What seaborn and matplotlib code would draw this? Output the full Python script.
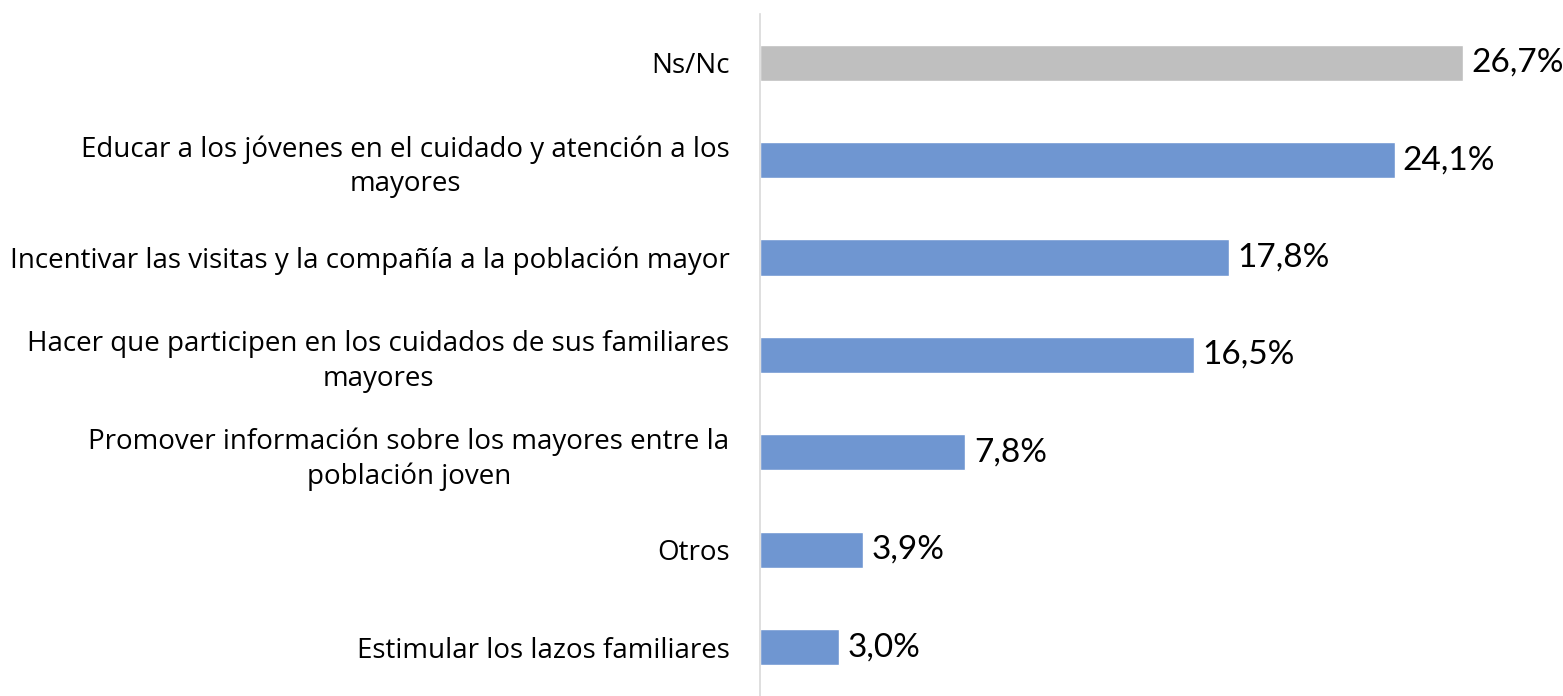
import matplotlib
matplotlib.use('Agg')
import matplotlib.pyplot as plt
import seaborn as sns
import pandas as pd

categories = [
    'Ns/Nc',
    'Educar a los jóvenes en el cuidado y atención a los\nmayores',
    'Incentivar las visitas y la compañía a la población mayor',
    'Hacer que participen en los cuidados de sus familiares\nmayores',
    'Promover información sobre los mayores entre la\npoblación joven',
    'Otros',
    'Estimular los lazos familiares',
]
values = [26.7, 24.1, 17.8, 16.5, 7.8, 3.9, 3.0]
colors = ['#BFBFBF'] + ['#6F96D1'] * 6

sns.set_theme(style='white')
plt.rcParams['font.family'] = ['Open Sans', 'DejaVu Sans']

data = pd.DataFrame(dict(cat=categories, val=values))

fig = plt.figure(figsize=(15.63, 6.96), dpi=100)
ax = fig.add_axes([0.4863, 0.0, 0.5137, 0.98])

sns.barplot(data=data, x='val', y='cat', hue='cat', palette=colors,
            legend=False, width=0.37, ax=ax, saturation=1)

ax.set_xlim(0, 30.5)
ax.set_ylim(6.5, -0.5)
ax.set_xlabel('')
ax.set_ylabel('')
ax.set_xticks([])
for s in ['top', 'right', 'bottom']:
    ax.spines[s].set_visible(False)
ax.spines['left'].set_color('#D9D9D9')
ax.spines['left'].set_linewidth(1.2)

ax.tick_params(axis='y', length=0, pad=22, labelsize=20)
for lab in ax.get_yticklabels():
    lab.set_multialignment('center')
    lab.set_linespacing(1.3)
    lab.set_color('black')

for cont in ax.containers:
    ax.bar_label(cont, labels=[('%.1f%%' % v).replace('.', ',') for v in cont.datavalues],
                 padding=6, fontsize=24, family='Lato', color='black')

plt.savefig('out.png', dpi=100)
